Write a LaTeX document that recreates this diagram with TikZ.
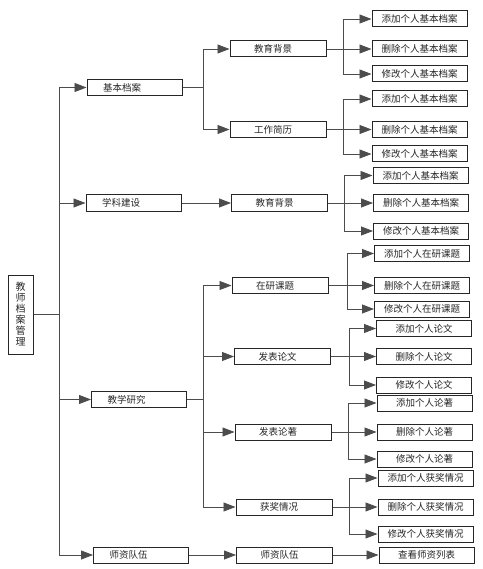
\documentclass[tikz,border=0pt]{standalone}
\usepackage{fontspec}
\newfontfamily\cjk{Noto Sans CJK SC}
\usetikzlibrary{arrows.meta,positioning}

\begin{document}
\begin{tikzpicture}[
    x=1pt, y=-1pt,
    font=\cjk\fontsize{9.5}{11}\selectfont,
    box/.style={rectangle, draw=black!85, line width=1pt, text=black!85, minimum height=16pt, inner ysep=0pt},
    lvlone/.style={box, text width=63pt, inner xsep=16pt, align=left},
    lvltwo/.style={box, text width=48pt, inner xsep=24pt, align=left},
    leaf/.style={box, minimum width=95pt, inner xsep=0pt, align=center},
    rootbox/.style={box, minimum width=25pt, minimum height=79pt, align=center, font=\cjk\fontsize{10}{11}\selectfont},
    arrow/.style={draw=black!70, line width=0.75pt, ->, >={Triangle[length=12pt,width=9pt]}}
]
\useasboundingbox (0,0) rectangle (482,569);

% Root
\node[rootbox] (root) at (20.5,314.5) {教\\师\\档\\案\\管\\理};

% First level
\node[lvlone] (basic) at (134.5,87.5) {基本档案};
\node[lvlone] (subject) at (133.5,203) {学科建设};
\node[lvlone] (research) at (139,399.5) {教学研究};
\node[lvlone] (staff) at (141,555) {师资队伍};

% Second level
\node[lvltwo] (edu1) at (278,49) {教育背景};
\node[lvltwo] (work) at (278,129.5) {工作简历};
\node[lvltwo] (edu2) at (279.5,203) {教育背景};
\node[lvltwo] (topic) at (280,285.5) {在研课题};
\node[lvltwo] (paper) at (282.5,356.5) {发表论文};
\node[lvltwo] (book) at (283,432) {发表论著};
\node[lvltwo] (award) at (284,507) {获奖情况};
\node[lvltwo] (staff2) at (284.5,555) {师资队伍};

% Leaves
\node[leaf] (addA) at (419.5,19) {添加个人基本档案};
\node[leaf] (delA) at (419.5,49) {删除个人基本档案};
\node[leaf] (modA) at (419.5,74) {修改个人基本档案};
\node[leaf] (addB) at (419.5,99) {添加个人基本档案};
\node[leaf] (delB) at (419.5,129.5) {删除个人基本档案};
\node[leaf] (modB) at (419.5,154) {修改个人基本档案};
\node[leaf] (addC) at (420.5,175.5) {添加个人基本档案};
\node[leaf] (delC) at (421,203) {删除个人基本档案};
\node[leaf] (modC) at (421,231) {修改个人基本档案};
\node[leaf] (addD) at (422,253.5) {添加个人在研课题};
\node[leaf] (delD) at (422,285.5) {删除个人在研课题};
\node[leaf] (modD) at (422,309) {修改个人在研课题};
\node[leaf] (addE) at (424,328.5) {添加个人论文};
\node[leaf] (delE) at (424,356.5) {删除个人论文};
\node[leaf] (modE) at (424,385) {修改个人论文};
\node[leaf] (addF) at (424.5,403) {添加个人论著};
\node[leaf] (delF) at (424.5,432) {删除个人论著};
\node[leaf] (modF) at (424.5,459) {修改个人论著};
\node[leaf] (addG) at (425.5,478) {添加个人获奖情况};
\node[leaf] (delG) at (425.5,507) {删除个人获奖情况};
\node[leaf] (modG) at (425.5,534) {修改个人获奖情况};
\node[leaf] (list) at (426.5,555) {查看师资列表};

% Trunk
\coordinate (trunk) at (59,314.5);
\draw[arrow] (root.east) -- (trunk) |- (basic.west);
\draw[arrow] (root.east) -- (trunk) |- (subject.west);
\draw[arrow] (root.east) -- (trunk) |- (research.west);
\draw[arrow] (root.east) -- (trunk) |- (staff.west);

% Second level connections
\draw[arrow] (basic.east) -- ++(21,0) |- (edu1.west);
\draw[arrow] (basic.east) -- ++(21,0) |- (work.west);
\draw[arrow] (subject.east) -- (edu2.west);
\draw[arrow] (research.east) -- ++(16,0) |- (topic.west);
\draw[arrow] (research.east) -- ++(16,0) |- (paper.west);
\draw[arrow] (research.east) -- ++(16,0) |- (book.west);
\draw[arrow] (research.east) -- ++(16,0) |- (award.west);
\draw[arrow] (staff.east) -- (staff2.west);

% Leaf connections
\draw[arrow] (edu1.east) -- ++(17,0) |- (addA.west);
\draw[arrow] (edu1.east) -- (delA.west);
\draw[arrow] (edu1.east) -- ++(17,0) |- (modA.west);
\draw[arrow] (work.east) -- ++(17,0) |- (addB.west);
\draw[arrow] (work.east) -- (delB.west);
\draw[arrow] (work.east) -- ++(17,0) |- (modB.west);
\draw[arrow] (edu2.east) -- ++(16,0) |- (addC.west);
\draw[arrow] (edu2.east) -- (delC.west);
\draw[arrow] (edu2.east) -- ++(16,0) |- (modC.west);
\draw[arrow] (topic.east) -- ++(19,0) |- (addD.west);
\draw[arrow] (topic.east) -- (delD.west);
\draw[arrow] (topic.east) -- ++(19,0) |- (modD.west);
\draw[arrow] (paper.east) -- ++(18,0) |- (addE.west);
\draw[arrow] (paper.east) -- (delE.west);
\draw[arrow] (paper.east) -- ++(18,0) |- (modE.west);
\draw[arrow] (book.east) -- ++(17,0) |- (addF.west);
\draw[arrow] (book.east) -- (delF.west);
\draw[arrow] (book.east) -- ++(17,0) |- (modF.west);
\draw[arrow] (award.east) -- ++(17,0) |- (addG.west);
\draw[arrow] (award.east) -- (delG.west);
\draw[arrow] (award.east) -- ++(17,0) |- (modG.west);
\draw[arrow] (staff2.east) -- (list.west);

\end{tikzpicture}
\end{document}
